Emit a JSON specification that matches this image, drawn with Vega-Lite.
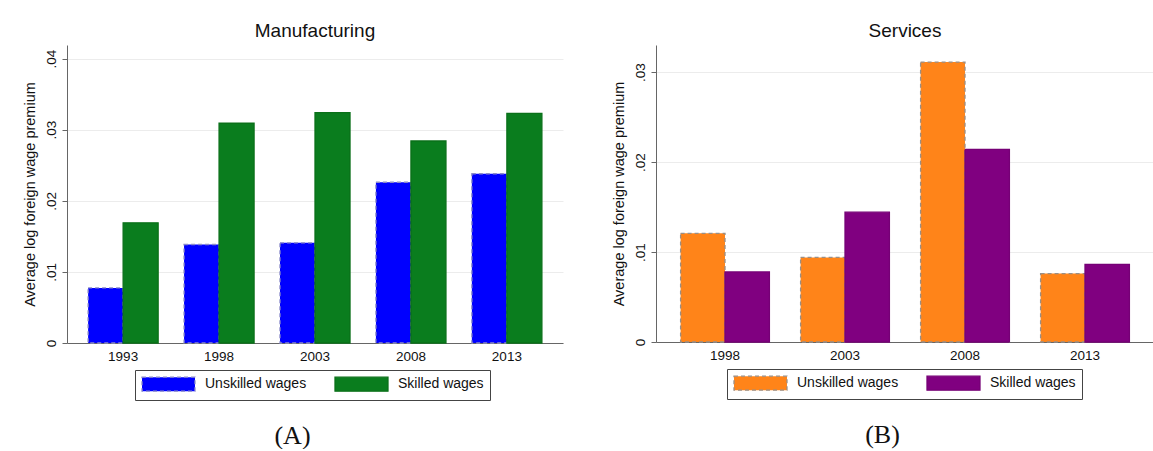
{
  "$schema": "https://vega.github.io/schema/vega-lite/v6.json",
  "padding": {"left": 22, "top": 22, "right": 0, "bottom": 0},
  "background": "white",
  "spacing": 48,
  "config": {
    "font": "Liberation Sans",
    "view": {"stroke": null},
    "axis": {
      "labelFont": "Liberation Sans", "titleFont": "Liberation Sans",
      "labelColor": "#111111", "titleColor": "#111111",
      "domainColor": "#666666", "tickColor": "#666666", "gridColor": "#ececec",
      "labelFontSize": 13.5, "titleFontSize": 14, "titleFontWeight": "normal"
    },
    "legend": {
      "labelFont": "Liberation Sans", "labelFontSize": 14, "labelColor": "#111111",
      "symbolType": "M-1,-1H6.57V1H-1Z", "symbolSize": 196, "symbolStrokeWidth": 1.3,
      "symbolOpacity": 1, "labelOffset": 48, "columnPadding": 25, "padding": 6,
      "strokeColor": "#444444", "fillColor": "white"
    },
    "title": {"font": "Liberation Sans", "fontSize": 19, "fontWeight": "normal", "color": "#111111"}
  },
  "resolve": {
    "scale": {"x": "independent", "y": "independent", "xOffset": "independent", "fill": "independent", "stroke": "independent", "strokeDash": "independent"},
    "legend": {"fill": "independent", "stroke": "independent", "strokeDash": "independent"}
  },
  "hconcat": [
    {
      "title": {"text": "(A)", "orient": "bottom", "anchor": "middle", "font": "Liberation Serif", "fontSize": 26, "offset": 22, "color": "#111111"},
      "vconcat": [
        {
          "title": {"text": "Manufacturing", "offset": 4},
          "width": 496, "height": 298,
          "data": {"values": [
            {"year": "1993", "type": "Unskilled wages", "value": 0.00775},
            {"year": "1993", "type": "Skilled wages", "value": 0.0169},
            {"year": "1998", "type": "Unskilled wages", "value": 0.01385},
            {"year": "1998", "type": "Skilled wages", "value": 0.0309},
            {"year": "2003", "type": "Unskilled wages", "value": 0.01408},
            {"year": "2003", "type": "Skilled wages", "value": 0.0324},
            {"year": "2008", "type": "Unskilled wages", "value": 0.0226},
            {"year": "2008", "type": "Skilled wages", "value": 0.0284},
            {"year": "2013", "type": "Unskilled wages", "value": 0.0238},
            {"year": "2013", "type": "Skilled wages", "value": 0.0323}
          ]},
          "mark": {"type": "bar", "strokeWidth": 1.3},
          "encoding": {
            "x": {"field": "year", "type": "ordinal",
              "scale": {"paddingInner": 0.27, "paddingOuter": 0.22},
              "axis": {"title": null, "labelAngle": 0, "ticks": false, "labelPadding": 6, "labelFontSize": 13.5, "labelFont": "Liberation Sans"}},
            "xOffset": {"field": "type", "type": "nominal", "sort": ["Unskilled wages", "Skilled wages"]},
            "y": {"field": "value", "type": "quantitative",
              "scale": {"domain": [0, 0.0419], "nice": false},
              "axis": {"values": [0, 0.01, 0.02, 0.03, 0.04], "labelAngle": -90,
                "labelExpr": "datum.value == 0 ? '0' : replace(format(datum.value, '.2f'), '0.', '.')",
                "labelFontSize": 13.5, "titleFontSize": 14.5, "labelFont": "Liberation Sans", "titleFont": "Liberation Sans",
                "title": "Average log foreign wage premium", "tickSize": 5, "labelPadding": 4, "titlePadding": 7, "grid": true}},
            "fill": {"field": "type", "type": "nominal",
              "scale": {"domain": ["Unskilled wages", "Skilled wages"], "range": ["#0000ff", "#0a7d1e"]},
              "legend": {"orient": "none", "legendX": 68, "legendY": 325, "direction": "horizontal", "title": null}},
            "stroke": {"field": "type", "type": "nominal",
              "scale": {"domain": ["Unskilled wages", "Skilled wages"], "range": ["#8a8ac8", "#0a7019"]},
              "legend": {"orient": "none", "legendX": 68, "legendY": 325, "direction": "horizontal", "title": null}},
            "strokeDash": {"field": "type", "type": "nominal",
              "scale": {"domain": ["Unskilled wages", "Skilled wages"], "range": [[4, 3], [1, 0]]},
              "legend": {"orient": "none", "legendX": 68, "legendY": 325, "direction": "horizontal", "title": null}}
          }
        }
      ]
    },
    {
      "title": {"text": "(B)", "orient": "bottom", "anchor": "middle", "font": "Liberation Serif", "fontSize": 26, "offset": 22, "color": "#111111"},
      "vconcat": [
        {
          "title": {"text": "Services", "offset": 4},
          "width": 498, "height": 297,
          "data": {"values": [
            {"year": "1998", "type": "Unskilled wages", "value": 0.01207},
            {"year": "1998", "type": "Skilled wages", "value": 0.00779},
            {"year": "2003", "type": "Unskilled wages", "value": 0.0094},
            {"year": "2003", "type": "Skilled wages", "value": 0.01443},
            {"year": "2008", "type": "Unskilled wages", "value": 0.0311},
            {"year": "2008", "type": "Skilled wages", "value": 0.0214},
            {"year": "2013", "type": "Unskilled wages", "value": 0.0076},
            {"year": "2013", "type": "Skilled wages", "value": 0.00863}
          ]},
          "mark": {"type": "bar", "strokeWidth": 1.3},
          "encoding": {
            "x": {"field": "year", "type": "ordinal",
              "scale": {"paddingInner": 0.26, "paddingOuter": 0.205},
              "axis": {"title": null, "labelAngle": 0, "ticks": false, "labelPadding": 6, "labelFontSize": 13.5, "labelFont": "Liberation Sans"}},
            "xOffset": {"field": "type", "type": "nominal", "sort": ["Unskilled wages", "Skilled wages"]},
            "y": {"field": "value", "type": "quantitative",
              "scale": {"domain": [0, 0.033], "nice": false},
              "axis": {"values": [0, 0.01, 0.02, 0.03], "labelAngle": -90,
                "labelExpr": "datum.value == 0 ? '0' : replace(format(datum.value, '.2f'), '0.', '.')",
                "labelFontSize": 13.5, "titleFontSize": 14.5, "labelFont": "Liberation Sans", "titleFont": "Liberation Sans",
                "title": "Average log foreign wage premium", "tickSize": 5, "labelPadding": 4, "titlePadding": 7, "grid": true}},
            "fill": {"field": "type", "type": "nominal",
              "scale": {"domain": ["Unskilled wages", "Skilled wages"], "range": ["#ff8419", "#800080"]},
              "legend": {"orient": "none", "legendX": 71, "legendY": 324, "direction": "horizontal", "title": null}},
            "stroke": {"field": "type", "type": "nominal",
              "scale": {"domain": ["Unskilled wages", "Skilled wages"], "range": ["#9a8f86", "#760076"]},
              "legend": {"orient": "none", "legendX": 71, "legendY": 324, "direction": "horizontal", "title": null}},
            "strokeDash": {"field": "type", "type": "nominal",
              "scale": {"domain": ["Unskilled wages", "Skilled wages"], "range": [[4, 3], [1, 0]]},
              "legend": {"orient": "none", "legendX": 71, "legendY": 324, "direction": "horizontal", "title": null}}
          }
        }
      ]
    }
  ]
}
